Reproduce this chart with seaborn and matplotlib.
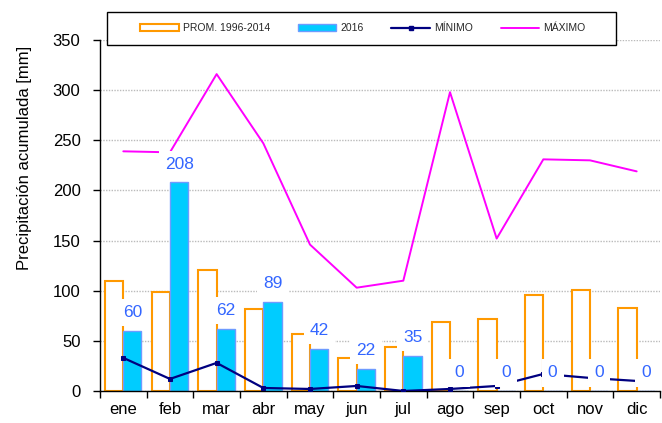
import matplotlib
matplotlib.use("Agg")
import matplotlib.pyplot as plt
import seaborn as sns
import pandas as pd
import numpy as np
from matplotlib.patches import Patch, Rectangle
from matplotlib.lines import Line2D

months = ["ene", "feb", "mar", "abr", "may", "jun", "jul", "ago", "sep", "oct", "nov", "dic"]
prom = [110, 99, 121, 82, 57, 33, 44, 69, 72, 96, 101, 83]
y2016 = [60, 208, 62, 89, 42, 22, 35, 0, 0, 0, 0, 0]
minimo = [33, 12, 28, 3, 2, 5, 0, 2, 5, 17, 13, 10]
maximo = [239, 238, 316, 247, 146, 103, 110, 298, 152, 231, 230, 219]
series_names = ["PROM. 1996-2014", "2016", "MÍNIMO", "MÁXIMO"]
yticks = [0, 50, 100, 150, 200, 250, 300, 350]

sns.set_theme(style="white")
plt.rcParams['font.family'] = ['Liberation Sans', 'DejaVu Sans']

fig = plt.figure(figsize=(6.62, 4.23), dpi=100)
ax = fig.add_axes([0.151, 0.0757, 0.846, 0.8297])

df = pd.DataFrame({
    "mes": months * 2,
    "valor": prom + y2016,
    "serie": [series_names[0]] * 12 + [series_names[1]] * 12,
})
sns.barplot(data=df, x="mes", y="valor", hue="serie", order=months,
            hue_order=series_names[:2], palette=["white", "#00CCFF"],
            saturation=1, width=0.78, errorbar=None, legend=False, ax=ax)
for p in ax.containers[0]:
    p.set_edgecolor("#FF9900")
    p.set_linewidth(1.5)
    p.set_facecolor("white")
for p in ax.containers[1]:
    p.set_edgecolor("#6E9BFF")
    p.set_linewidth(1.0)

pos = np.arange(len(months))
sns.lineplot(x=pos, y=minimo, color="#000080", lw=1.6, marker="s",
             markersize=3.5, markeredgecolor="#000080", ax=ax, zorder=3)
sns.lineplot(x=pos, y=maximo, color="#FF00FF", lw=1.4, ax=ax, zorder=3)

for i, v in enumerate(y2016):
    ax.text(i + 0.2, v + 18, f"{v}", ha="center", va="center",
            color="#3366FF", fontsize=12.5,
            bbox=dict(boxstyle="square,pad=0.35", fc="white", ec="none"),
            zorder=6)

ax.set_xlim(-0.5, 11.5)
ax.set_ylim(0, 350)
ax.set_yticks(yticks)
ax.set_xticks(np.arange(-0.5, 12, 1))
ax.set_xticklabels([])
ax.set_xticks(pos, minor=True)
ax.set_xticklabels(months, minor=True)
ax.tick_params(axis="x", which="major", bottom=True, length=5, width=1,
               color="black", direction="out")
ax.tick_params(axis="x", which="minor", bottom=True, length=0, labelsize=12,
               pad=8, labelcolor="black")
ax.tick_params(axis="y", left=True, length=5, width=1, color="black",
               direction="out", labelsize=12, pad=9, labelcolor="black")
ax.set_axisbelow(True)
ax.yaxis.grid(True, color="#BBBBBB", linestyle=(0, (1, 1)), lw=1)
ax.xaxis.grid(False)
for s in ["top", "right"]:
    ax.spines[s].set_visible(False)
for s in ["left", "bottom"]:
    ax.spines[s].set_color("black")
    ax.spines[s].set_linewidth(1)
ax.set_xlabel("")
ax.set_ylabel("Precipitación acumulada [mm]", fontsize=12, color="black")
ax.yaxis.set_label_coords(-0.121, 0.664)

# legend frame box
frame = Rectangle((0.1616, 0.8936), 0.769, 0.0787, transform=fig.transFigure,
                  facecolor="white", edgecolor="black", linewidth=1, zorder=4)
fig.patches.append(frame)

handles = [
    Patch(facecolor="white", edgecolor="#FF9900", linewidth=1.5),
    Patch(facecolor="#00CCFF", edgecolor="#6E9BFF", linewidth=1.0),
    Line2D([], [], color="#000080", lw=1.6, marker="s", markersize=2.5),
    Line2D([], [], color="#FF00FF", lw=1.4),
]
leg = fig.legend(handles, series_names, ncol=4, loc="center",
                 bbox_to_anchor=(0.548, 0.933), frameon=False,
                 fontsize=7.5, handlelength=3.7, handleheight=0.6,
                 handletextpad=0.35, columnspacing=2.7, borderpad=0,
                 borderaxespad=0, numpoints=1)
leg.set_zorder(5)

fig.savefig("out.png", dpi=100)
